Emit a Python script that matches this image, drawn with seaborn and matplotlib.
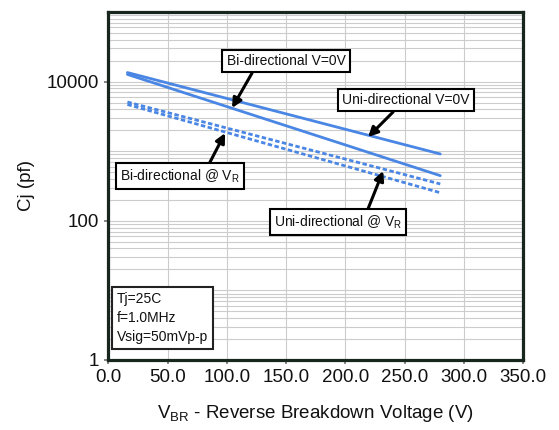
import numpy as np
import pandas as pd
import matplotlib
matplotlib.use('Agg')
import matplotlib.pyplot as plt
from matplotlib.ticker import FixedLocator, NullFormatter, FuncFormatter
import seaborn as sns

# Datos (extremos de cada recta en escala log)
voltaje = [16, 280]
uni_0v = [13500, 912]
bi_0v = [12700, 445]
uni_vr = [5090, 338]
bi_vr = [4690, 253]

series = ['Uni-directional V=0V', 'Bi-directional V=0V',
          'Uni-directional @ VR', 'Bi-directional @ VR']
valores = [uni_0v, bi_0v, uni_vr, bi_vr]

df = pd.DataFrame({
    'Voltaje': voltaje * 4,
    'Cj': sum(valores, []),
    'Serie': np.repeat(series, len(voltaje)),
})

sns.set_theme(style='white')
plt.rcParams['font.family'] = ['Liberation Sans', 'DejaVu Sans']
plt.rcParams['mathtext.fontset'] = 'custom'
plt.rcParams['mathtext.rm'] = 'Liberation Sans'
plt.rcParams['mathtext.it'] = 'Liberation Sans'
plt.rcParams['text.color'] = '#111111'
plt.rcParams['axes.labelcolor'] = '#111111'
plt.rcParams['xtick.labelcolor'] = '#111111'
plt.rcParams['ytick.labelcolor'] = '#111111'

fig, ax = plt.subplots(figsize=(5.59, 4.30), dpi=100)
fig.subplots_adjust(left=0.194, right=0.936, bottom=0.163, top=0.972)

azul = '#4a86e4'
estilos = {series[0]: '', series[1]: '', series[2]: (1.6, 0.9), series[3]: (1.6, 0.9)}
sns.lineplot(data=df, x='Voltaje', y='Cj', hue='Serie', style='Serie',
             palette=[azul] * 4, dashes=estilos, linewidth=2.0,
             legend=False, ax=ax)

ax.set_yscale('log')
ax.set_xlim(0, 350)
ax.set_ylim(1, 100000)

# Ejes y cuadricula
ax.xaxis.set_major_locator(FixedLocator(np.arange(0, 351, 50)))
ax.xaxis.set_major_formatter(FuncFormatter(lambda v, p: f'{v:.1f}'))
ax.yaxis.set_major_locator(FixedLocator([1, 100, 10000]))
ax.yaxis.set_major_formatter(FuncFormatter(lambda v, p: f'{v:.0f}'))
menores = [m * 10.0 ** d for d in range(0, 5) for m in range(1, 10)] + [100000]
menores = [m for m in menores if m not in (1, 100, 10000)]
ax.yaxis.set_minor_locator(FixedLocator(menores))
ax.yaxis.set_minor_formatter(NullFormatter())
ax.grid(True, which='major', color='#cccccc', linewidth=0.8)
ax.grid(True, which='minor', axis='y', color='#cccccc', linewidth=0.8)
ax.set_axisbelow(True)
ax.tick_params(axis='both', which='major', labelsize=13.5, length=3,
               color='#777777', direction='out', bottom=True, left=True)
ax.tick_params(axis='y', which='minor', length=0)
for lado in ax.spines.values():
    lado.set_color('#17271e')
    lado.set_linewidth(2.3)

ax.set_xlabel(r'V$_{\mathrm{BR}}$ - Reverse Breakdown Voltage (V)',
              fontsize=13.5, labelpad=12)
ax.set_ylabel('Cj (pf)', fontsize=13.5, labelpad=9)

# Etiquetas con flecha
caja = dict(boxstyle='square,pad=0.3', facecolor='white',
            edgecolor='black', linewidth=1.5)
flecha = dict(arrowstyle='-|>', color='black', lw=2.2, mutation_scale=14,
              shrinkA=0, shrinkB=0)
etiquetas = [
    ('Bi-directional V=0V', (149.9, 19770), (121.2, 13300), (104.3, 4180)),
    ('Uni-directional V=0V', (251.2, 5440), (240.2, 3660), (219.1, 1600)),
    (r'Bi-directional @ V$_{\mathrm{R}}$', (60.4, 440), (84.0, 613), (98.4, 1820)),
    (r'Uni-directional @ V$_{\mathrm{R}}$', (193.8, 96), (218.3, 138), (231.8, 520)),
]
for texto, centro, cola, punta in etiquetas:
    ax.annotate('', xy=punta, xytext=cola, arrowprops=flecha, zorder=4)
    ax.text(centro[0], centro[1], texto, ha='center', va='center',
            fontsize=10, bbox=caja, zorder=5)

ax.text(0.02, 0.045, 'Tj=25C\nf=1.0MHz\nVsig=50mVp-p', transform=ax.transAxes,
        ha='left', va='bottom', fontsize=10, linespacing=1.45,
        bbox=dict(boxstyle='square,pad=0.35', facecolor='white',
                  edgecolor='#222222', linewidth=1.5), zorder=5)

fig.savefig('out.png', dpi=100)
